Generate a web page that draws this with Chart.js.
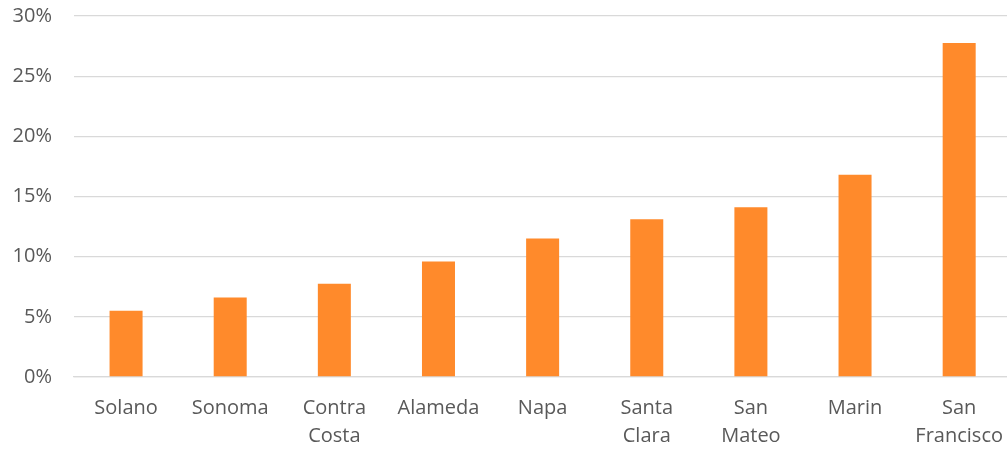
<!DOCTYPE html>
<html>
<head>
<meta charset="utf-8">
<script src="https://cdn.jsdelivr.net/npm/chart.js@4"></script>
<style>
  html, body { margin: 0; padding: 0; background: #fff; overflow: hidden; }
  #wrap { width: 1012px; height: 477px; margin-top: -18px; }
</style>
</head>
<body>
<div id="wrap"><canvas id="myChart"></canvas></div>
<script>
// counties, left to right
const counties = ["Solano", "Sonoma", ["Contra", "Costa"], "Alameda", "Napa",
                  ["Santa", "Clara"], ["San", "Mateo"], "Marin", ["San", "Francisco"]];
// share in percent
const shares = [5.5, 6.6, 7.75, 9.6, 11.5, 13.1, 14.1, 16.8, 27.75];
const yTicks = [0, 5, 10, 15, 20, 25, 30];

Chart.defaults.font.family = "'Open Sans', sans-serif";
Chart.defaults.color = '#595959';

var ctx = document.getElementById('myChart').getContext('2d');
var chart = new Chart(ctx, {
    type: 'bar',
    data: {
        labels: counties,
        datasets: [{
            data: shares,
            backgroundColor: '#FF8A2B',
            barPercentage: 0.317,
            categoryPercentage: 1.0
        }]
    },
    options: {
        responsive: true,
        maintainAspectRatio: false,
        animation: false,
        layout: { padding: { top: 0, left: 0, right: 0, bottom: 0 } },
        plugins: { legend: { display: false }, tooltip: { enabled: false } },
        scales: {
            x: {
                grid: { display: false },
                border: { color: '#D9D9D9', width: 1.3 },
                ticks: { font: { size: 20, lineHeight: 1.4 }, maxRotation: 0, autoSkip: false, padding: 9 }
            },
            y: {
                min: 0,
                max: 30,
                afterBuildTicks: function (axis) {
                    axis.ticks = yTicks.map(v => ({ value: v }));
                },
                afterFit: function (axis) { axis.width = 74; },
                grid: { color: '#D9D9D9', lineWidth: 1.3, drawTicks: false },
                border: { display: false },
                ticks: {
                    font: { size: 20 },
                    padding: 22,
                    callback: v => v + '%'
                }
            }
        }
    }
});
</script>
</body>
</html>
